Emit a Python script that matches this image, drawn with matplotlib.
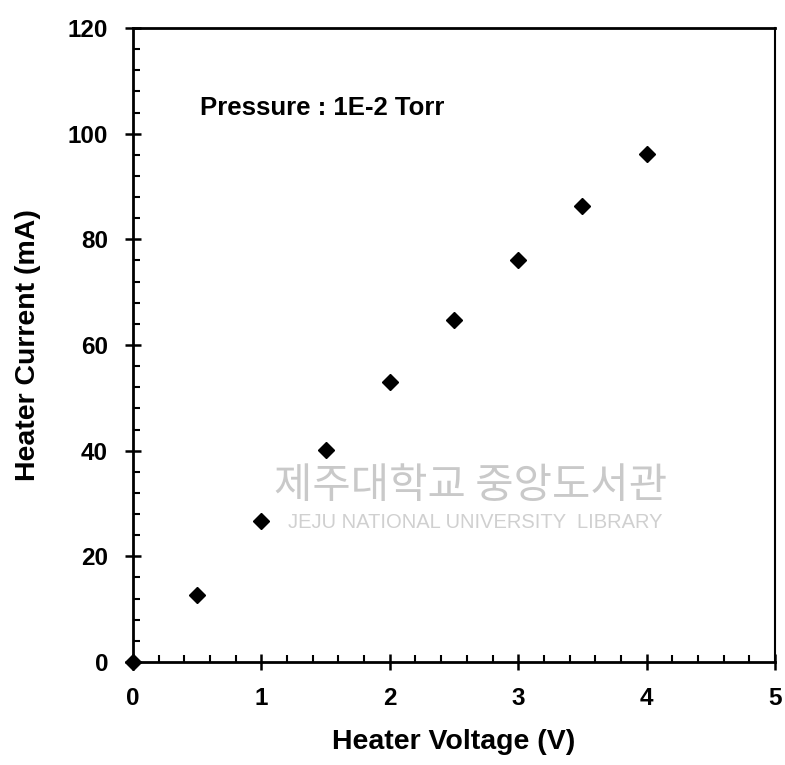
import numpy as np
import matplotlib
matplotlib.use("Agg")
import matplotlib.pyplot as plt
from matplotlib.ticker import MultipleLocator

voltage = [0.0, 0.5, 1.0, 1.5, 2.0, 2.5, 3.0, 3.5, 4.0]
current = [0.0, 12.7, 26.7, 40.1, 53.0, 64.8, 76.1, 86.4, 96.2]
xticks = [0, 1, 2, 3, 4, 5]
yticks = [0, 20, 40, 60, 80, 100, 120]

plt.rcParams['font.family'] = ['Liberation Sans', 'DejaVu Sans']
plt.rcParams['font.weight'] = 'bold'

fig = plt.figure(figsize=(7.85, 7.65), dpi=100)
ax = fig.add_axes([133/785, 1-662/765, (775-133)/785, (662-28)/765])

# watermark
fig.text(471/785, 1-487/765, "제주대학교 중앙도서관", family=['Noto Sans CJK KR', 'DejaVu Sans'],
         fontsize=30, color='#c9c9c9', ha='center', va='center', weight='normal')
fig.text(475/785, 1-523/765, "JEJU NATIONAL UNIVERSITY  LIBRARY", family=['Liberation Sans'],
         fontsize=14.5, color='#d0d0d0', ha='center', va='center', weight='normal')

ax.plot(voltage, current, linestyle='none', marker='D', color='black', markersize=8.5, clip_on=False, zorder=5)

ax.set_xlim(0, 5)
ax.set_ylim(0, 120)
ax.set_xticks(xticks)
ax.set_yticks(yticks)
ax.xaxis.set_minor_locator(MultipleLocator(0.2))
ax.yaxis.set_minor_locator(MultipleLocator(4))
ax.tick_params(which='major', direction='inout', length=12, width=1.8, labelsize=17.5)
ax.tick_params(axis='x', which='major', pad=12)
ax.tick_params(axis='y', which='major', pad=12)
ax.tick_params(which='minor', direction='in', length=5, width=1.5)
for s in ax.spines.values():
    s.set_linewidth(2)
ax.spines['right'].set_linewidth(1.5)

ax.set_xlabel("Heater Voltage (V)", fontsize=20.5, fontweight='bold', labelpad=14)
ax.set_ylabel("Heater Current (mA)", fontsize=20.5, fontweight='bold', labelpad=19)
ax.text(0.52, 103.5, "Pressure : 1E-2 Torr", fontsize=18.5, fontweight='bold')

fig.savefig("out.png", dpi=100)
